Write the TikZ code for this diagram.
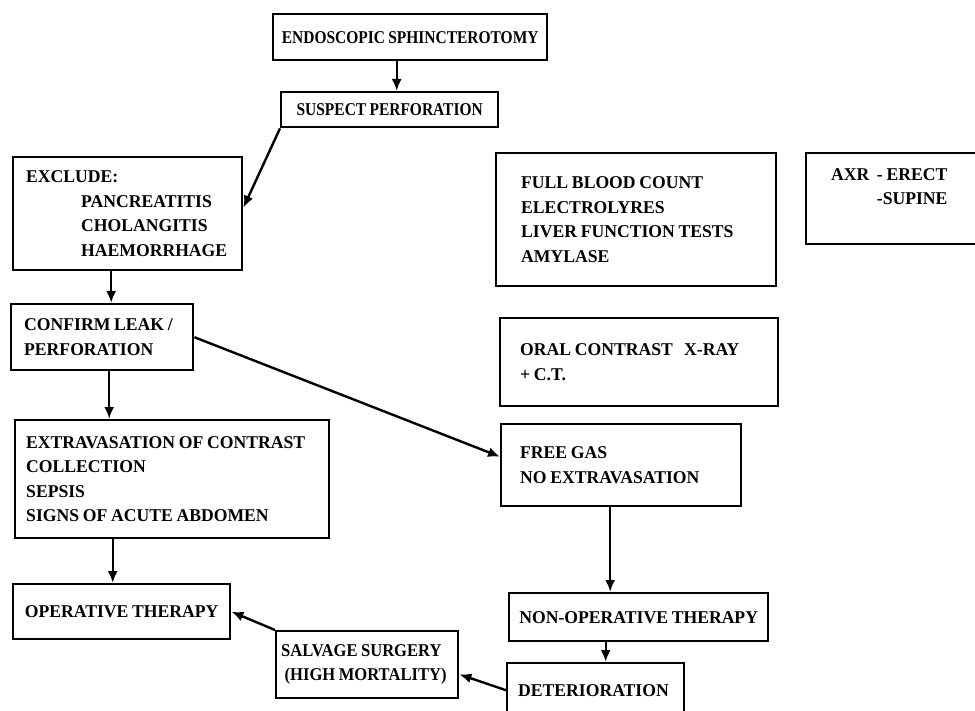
\documentclass[tikz,border=0pt]{standalone}
\usepackage{fontspec}
\setmainfont[FakeStretch=0.98, WordSpace=0.85]{Liberation Serif}
\newfontfamily\midserif[FakeStretch=0.92, WordSpace=0.85]{Liberation Serif}
\newfontfamily\narrowserif[FakeStretch=0.86, WordSpace=0.85]{Liberation Serif}
\usetikzlibrary{arrows.meta}

\begin{document}
\begin{tikzpicture}[x=1pt, y=-1pt, >={Latex[length=12pt,width=10pt]},
  box/.style={draw, line width=2.4pt, anchor=north west, align=flush left,
    font=\bfseries\fontsize{18}{24.5}\selectfont},
  narrowbox/.style={box, align=center, font=\narrowserif\bfseries\fontsize{18}{24.5}\selectfont},
  link/.style={->, line width=2.4pt}]
\useasboundingbox (0,0) rectangle (975,711);
\clip (0,0) rectangle (975,711);
\node[narrowbox, minimum width=274pt, minimum height=46pt] (es) at (272,13) {ENDOSCOPIC SPHINCTEROTOMY};
\node[narrowbox, minimum width=217pt, minimum height=35pt] (sp) at (280,91) {SUSPECT PERFORATION};
\node[box, text width=203pt, inner xsep=13pt, minimum height=113pt] (excl) at (12,156)
  {EXCLUDE:\\\hspace*{55pt}PANCREATITIS\\\hspace*{55pt}CHOLANGITIS\\\hspace*{55pt}HAEMORRHAGE};
\node[box, text width=230pt, inner xsep=25pt, minimum height=133pt] (fbc) at (495,152)
  {FULL BLOOD COUNT\\ELECTROLYRES\\LIVER FUNCTION TESTS\\AMYLASE};
\node[box, text width=135pt, inner xsep=25pt, minimum height=91pt] (axr) at (805,152)
  {AXR\ \ - ERECT\\\phantom{AXR\ \ }-SUPINE\\\mbox{}};
\node[box, text width=156pt, inner xsep=13pt, minimum height=66pt] (conf) at (10,303)
  {CONFIRM LEAK /\\PERFORATION};
\node[box, text width=238pt, inner xsep=20pt, minimum height=88pt] (oral) at (499,317)
  {ORAL CONTRAST\ \ \ X-RAY\\+ C.T.};
\node[box, text width=292pt, inner xsep=11pt, minimum height=118pt] (extr) at (14,419)
  {EXTRAVASATION OF CONTRAST\\COLLECTION\\SEPSIS\\SIGNS OF ACUTE ABDOMEN};
\node[box, text width=202pt, inner xsep=19pt, minimum height=82pt] (free) at (500,423)
  {FREE GAS\\NO EXTRAVASATION\\[8pt]};
\node[box, minimum width=217pt, minimum height=55pt, align=center] (oper) at (12,583) {OPERATIVE THERAPY};
\node[box, minimum width=259pt, minimum height=48pt, align=center] (nonop) at (508,592) {NON-OPERATIVE THERAPY};
\node[box, text width=172pt, inner xsep=5pt, minimum height=67pt,
  font=\midserif\bfseries\fontsize{18}{24.5}\selectfont] (salv) at (275,630)
  {SALVAGE SURGERY\\\ (HIGH MORTALITY)};
\node[box, text width=155pt, inner xsep=11pt, minimum height=54pt] (det) at (506,662) {DETERIORATION};
% connectors
\draw[link] ([xshift=7pt]sp.north |- es.south) -- ([xshift=7pt]sp.north);
\draw[link] (sp.south west) -- (excl.3);
\draw[link] ([xshift=9pt]conf.north |- excl.south) -- ([xshift=9pt]conf.north);
\draw[link] ([xshift=7pt]conf.south) -- ([xshift=7pt]conf.south |- extr.north);
\draw[link] (conf.east) -- (free.176);
\draw[link] ([xshift=-9pt]oper.north |- extr.south) -- ([xshift=-9pt]oper.north);
\draw[link] ([xshift=-11pt]free.south) -- ([xshift=-11pt]free.south |- nonop.north);
\draw[link] ([xshift=10pt]det.north |- nonop.south) -- ([xshift=10pt]det.north);
\draw[link] (det.west) -- (salv.-6);
\draw[link] (salv.north west) -- (oper.east);
\end{tikzpicture}
\end{document}
